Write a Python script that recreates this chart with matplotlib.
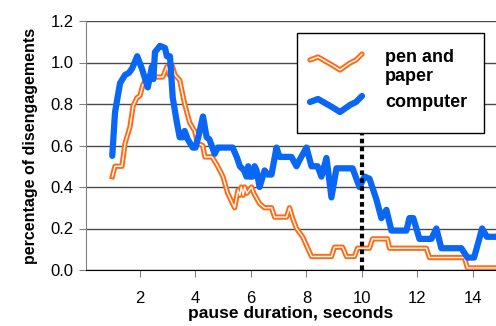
import matplotlib
matplotlib.use("Agg")
import matplotlib.pyplot as plt
from matplotlib.patches import Rectangle
from matplotlib.lines import Line2D
import numpy as np

plt.rcParams['font.family'] = ['Liberation Sans', 'DejaVu Sans']

# ---- data ----
computer_x = [1.0, 1.1, 1.28, 1.46, 1.6, 1.71, 1.9, 2.07, 2.28, 2.43, 2.48, 2.54, 2.72, 2.9, 2.97, 3.08,
              3.18, 3.33, 3.43, 3.55, 3.61, 3.72, 3.9, 4.0, 4.1, 4.27, 4.4, 4.5, 4.69, 4.8, 5.34, 5.5,
              5.6, 5.75, 5.84, 5.9, 5.95, 6.05, 6.13, 6.2, 6.31, 6.49, 6.6, 6.74, 6.92, 7.03, 7.46,
              7.64, 7.75, 8.0, 8.18, 8.4, 8.54, 8.72, 8.9, 9.08, 9.66, 9.91, 10.09, 10.27, 10.52,
              10.7, 10.88, 11.06, 11.6, 11.71, 11.85, 12.07, 12.5, 12.68, 12.86, 13.58, 13.8, 14.04,
              14.33, 14.5, 14.83]
computer_y = [0.55, 0.76, 0.90, 0.94, 0.95, 0.97, 1.03, 0.97, 0.88, 0.98, 0.92, 1.05, 1.08, 1.07, 1.03, 1.03,
              0.83, 0.71, 0.64, 0.64, 0.67, 0.63, 0.59, 0.59, 0.64, 0.74, 0.64, 0.63, 0.56, 0.59, 0.59, 0.54,
              0.50, 0.48, 0.45, 0.50, 0.45, 0.45, 0.50, 0.48, 0.40, 0.48, 0.46, 0.46, 0.59, 0.545, 0.545,
              0.50, 0.53, 0.59, 0.50, 0.50, 0.45, 0.54, 0.35, 0.49, 0.49, 0.40, 0.45, 0.44, 0.34,
              0.25, 0.29, 0.19, 0.19, 0.25, 0.25, 0.15, 0.15, 0.20, 0.105, 0.105, 0.06, 0.06,
              0.20, 0.16, 0.16]

pen_x = [1.0, 1.1, 1.35, 1.46, 1.64, 1.75, 1.89, 2.0, 2.1, 2.25, 2.82, 2.97, 3.05, 3.15, 3.26, 3.43,
         3.61, 3.79, 3.97, 4.08, 4.26, 4.34, 4.6, 4.8, 4.99, 5.16, 5.3, 5.41, 5.53, 5.6, 5.65, 5.72,
         5.77, 5.85, 6.02, 6.1, 6.31, 6.49, 6.74, 6.85, 7.28, 7.39, 7.5, 7.64, 7.86, 8.18, 8.9, 9.01,
         9.3, 9.44, 9.73, 9.84, 10.27, 10.38, 10.92, 10.99, 12.32, 12.43, 13.69, 13.8, 14.83]
pen_y = [0.45, 0.50, 0.50, 0.61, 0.69, 0.79, 0.83, 0.84, 0.89, 0.93, 0.93, 0.98, 0.94, 0.99, 0.94, 0.915,
         0.80, 0.71, 0.67, 0.61, 0.60, 0.545, 0.545, 0.50, 0.45, 0.37, 0.33, 0.30, 0.385, 0.36, 0.40, 0.36,
         0.40, 0.37, 0.40, 0.37, 0.32, 0.30, 0.30, 0.255, 0.255, 0.30, 0.25, 0.20, 0.16, 0.065, 0.065, 0.11,
         0.11, 0.065, 0.065, 0.105, 0.105, 0.15, 0.15, 0.105, 0.105, 0.06, 0.06, 0.01, 0.01]

x_ticks = [2, 4, 6, 8, 10, 12, 14]
y_ticks = [0.0, 0.2, 0.4, 0.6, 0.8, 1.0, 1.2]
marker_x = 10
legend_labels = ["pen and\npaper", "computer"]

ORANGE = '#FF6A13'
BLUE = '#0A66F5'

W, H = 496, 326
fig = plt.figure(figsize=(W / 100, H / 100), dpi=100)
ax = fig.add_axes([86 / W, (H - 270) / H, (W - 86) / W, (270 - 21) / H])
ax.set_xlim(0.054, 14.83)
ax.set_ylim(0, 1.2)

ax.set_yticks(y_ticks)
ax.set_yticklabels([f"{v:.1f}" for v in y_ticks])
ax.set_xticks(x_ticks)
ax.yaxis.grid(True, color='#4a4a4a', lw=1.0)
ax.set_axisbelow(True)

for s in ['top', 'right']:
    ax.spines[s].set_visible(False)
ax.spines['left'].set_color('#808080')
ax.spines['bottom'].set_color('black')
ax.tick_params(axis='y', direction='out', length=5, color='#808080', labelsize=12, pad=4)
ax.tick_params(axis='x', direction='out', length=5, color='#808080', labelsize=12, pad=10)

# series
ax.plot(pen_x, pen_y, color=ORANGE, lw=3.8, solid_joinstyle='round', zorder=3)
ax.plot(pen_x, pen_y, color='white', lw=1.0, solid_joinstyle='round', zorder=3.1)
ax.plot(computer_x, computer_y, color=BLUE, lw=4.5, solid_joinstyle='round',
        solid_capstyle='round', zorder=4)

ax.vlines(marker_x, 0, 0.66, colors='black', linestyles=(0, (1.1, 0.8)), lw=3.0, zorder=5)

ax.set_xlabel("pause duration, seconds", fontsize=12.5, fontweight='bold', labelpad=0)
ax.set_ylabel("percentage of disengagements", fontsize=11.5, fontweight='bold', labelpad=9)

# legend (manual)
def fx(px):
    return px / W

def fy(py):
    return 1 - py / H

fig.patches.append(Rectangle((fx(297), fy(133)), fx(484) - fx(297), (133 - 33) / H,
                             transform=fig.transFigure, facecolor='white', edgecolor='black',
                             lw=1.0, zorder=10))
wave_px = np.array([0, 8, 15, 22, 30, 40, 46, 52])
wave_py = np.array([0, -3, 1, 5, 10, 3, 0, -6])
for y0, col in [(60, ORANGE), (102, BLUE)]:
    xs = fx(310 + wave_px)
    ys = fy(y0 + wave_py)
    if col == ORANGE:
        fig.add_artist(Line2D(xs, ys, transform=fig.transFigure, color=ORANGE, lw=3.8,
                              solid_capstyle='round', solid_joinstyle='round', zorder=11))
        fig.add_artist(Line2D(xs, ys, transform=fig.transFigure, color='white', lw=1.0,
                              solid_capstyle='round', zorder=12))
    else:
        fig.add_artist(Line2D(xs, ys, transform=fig.transFigure, color=BLUE, lw=4.5,
                              solid_capstyle='round', solid_joinstyle='round', zorder=11))

fig.text(fx(385), fy(67), legend_labels[0], fontsize=13, fontweight='bold', va='center',
         ha='left', linespacing=1.15, zorder=12)
fig.text(fx(385), fy(103), legend_labels[1], fontsize=13, fontweight='bold', va='center',
         ha='left', zorder=12)

fig.savefig("out.png", dpi=100)
